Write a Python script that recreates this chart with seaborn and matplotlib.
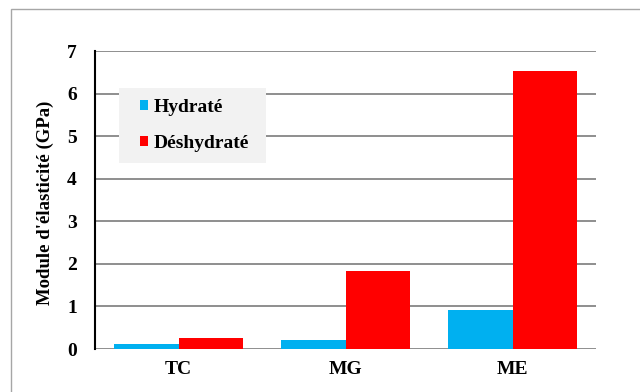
import matplotlib
matplotlib.use("Agg")
import matplotlib.pyplot as plt
from matplotlib.patches import Rectangle
import seaborn as sns
import pandas as pd

# Elastic modulus per sample, hydrated vs dehydrated state
categories = ["TC", "MG", "ME"]
states = ["Hydraté", "Déshydraté"]
hydrate = [0.12, 0.21, 0.92]
deshydrate = [0.26, 1.83, 6.53]
yticks = [0, 1, 2, 3, 4, 5, 6, 7]

df = pd.DataFrame({
    "cat": categories * 2,
    "etat": [states[0]] * 3 + [states[1]] * 3,
    "val": hydrate + deshydrate,
})

sns.set_style("white")
plt.rcParams["font.family"] = ["Liberation Serif", "DejaVu Serif"]
plt.rcParams["font.weight"] = "bold"
plt.rcParams["text.color"] = "black"
plt.rcParams["xtick.color"] = "black"
plt.rcParams["ytick.color"] = "black"
plt.rcParams["axes.labelcolor"] = "black"

fig = plt.figure(figsize=(6.4, 3.92), dpi=100)
W, H = 640, 392
ax = fig.add_axes([95 / W, (H - 349) / H, (596 - 95) / W, (349 - 51) / H])

# Outer chart frame (only left and top edges fall inside the image)
fig.patches.append(Rectangle((11 / W, -0.1), 1.2, (H - 9) / H + 0.1,
                             transform=fig.transFigure, fill=False,
                             edgecolor="#a6a6a6", linewidth=1.0))

sns.barplot(data=df, x="cat", y="val", hue="etat", order=categories,
            hue_order=states, palette=["#00b0f0", "#ff0000"],
            width=0.77, gap=0, saturation=1, linewidth=0, ax=ax, zorder=3)

ax.set_ylim(0, 7)
ax.set_xlim(-0.5, 2.5)
ax.set_yticks(yticks)
ax.yaxis.grid(True, color="#868686", linewidth=1.3, zorder=0)
ax.set_axisbelow(True)
for s in ["top", "right", "bottom"]:
    ax.spines[s].set_visible(False)
ax.spines["left"].set_color("black")
ax.spines["left"].set_linewidth(1.5)
ax.spines["left"].set_zorder(4)

ax.tick_params(axis="y", length=0, pad=13, labelsize=14)
ax.tick_params(axis="x", length=0, pad=9, labelsize=14)
for lab in ax.get_xticklabels() + ax.get_yticklabels():
    lab.set_fontweight("bold")

ax.set_xlabel("")
ax.set_ylabel("Module d'élasticité (GPa)", fontsize=13.5, fontweight="bold")
ax.yaxis.set_label_coords(-0.082, 0.49)

# Legend panel: light grey box behind the entries
x0, y0, x1, y1 = 119, 88, 266, 163
ax.add_patch(Rectangle((x0 / W, 1 - y1 / H), (x1 - x0) / W, (y1 - y0) / H,
                       transform=fig.transFigure, facecolor="#f2f2f2",
                       edgecolor="none", zorder=4.5, clip_on=False))
leg = ax.legend(loc="center",
                bbox_to_anchor=((x0 + x1) / 2 / W + 0.003, 1 - (y0 + y1) / 2 / H),
                bbox_transform=fig.transFigure, frameon=False,
                handlelength=0.42, handleheight=0.42, handletextpad=0.3,
                labelspacing=1.0, borderpad=0, borderaxespad=0,
                prop={"size": 14, "weight": "bold"})
leg.set_zorder(5)

fig.savefig("out.png", dpi=100, facecolor="white")
